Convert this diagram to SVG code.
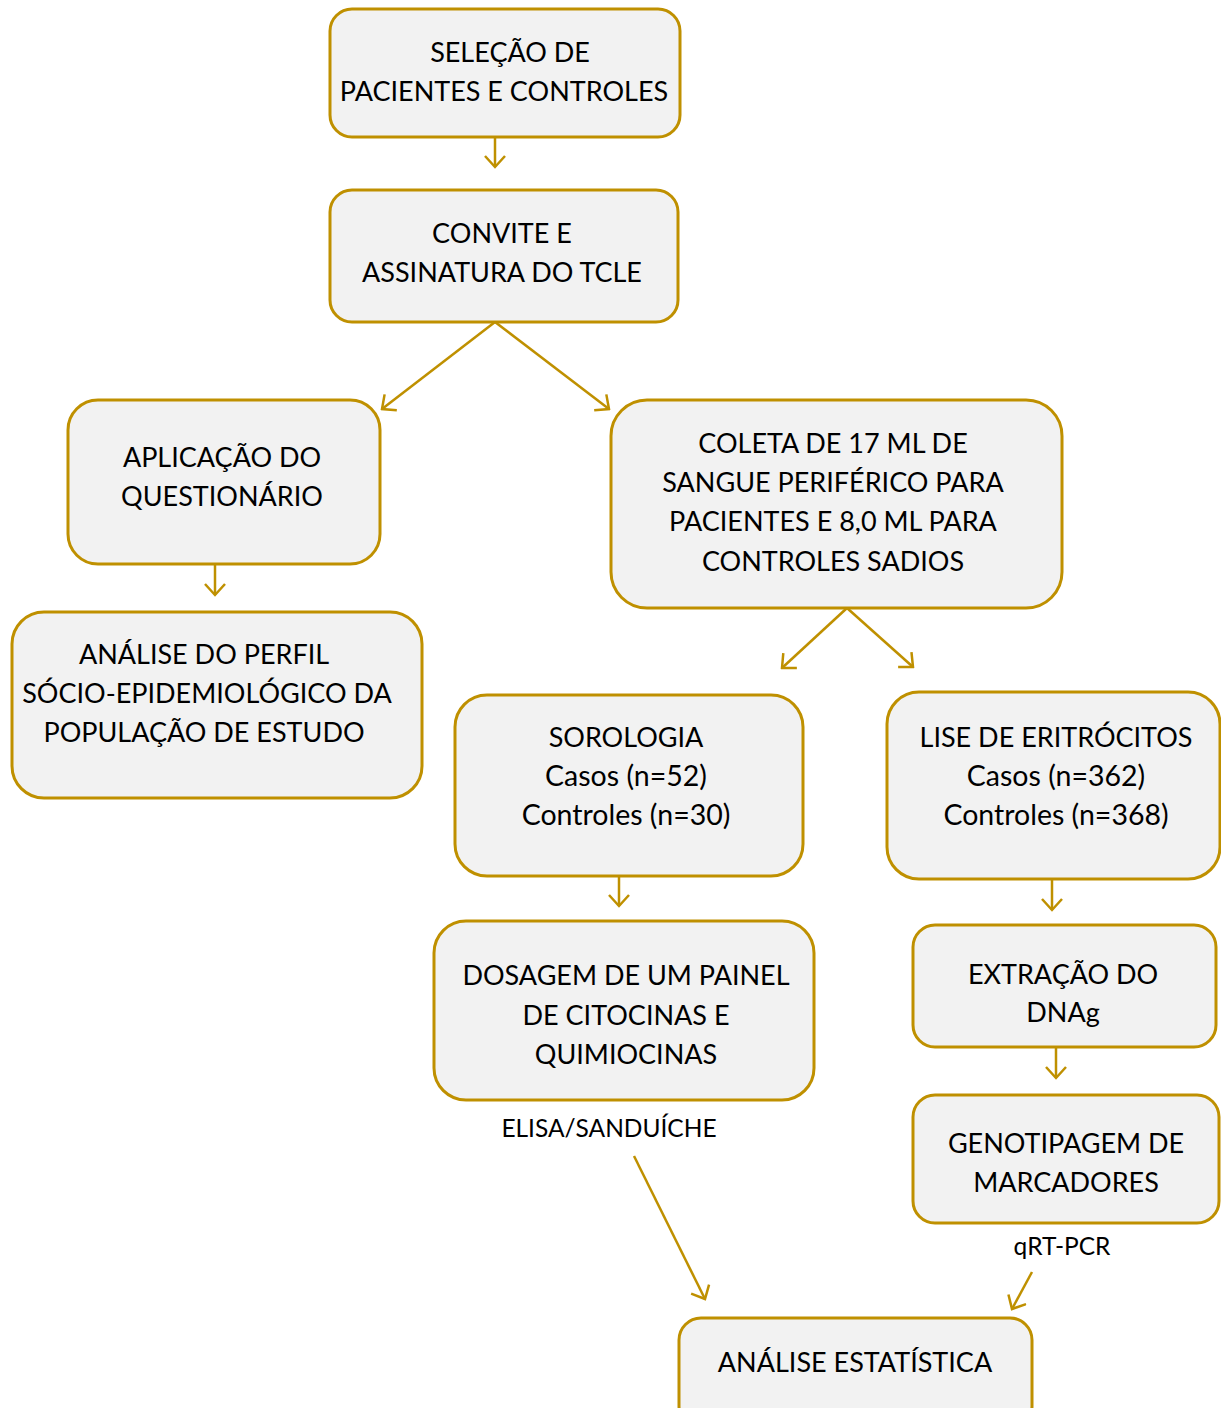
<svg xmlns="http://www.w3.org/2000/svg" width="1221" height="1408" viewBox="0 0 1221 1408">
<style>
.box{fill:#F2F2F2;stroke:#BF9000;stroke-width:3}
.t{font-family:Lato,"Liberation Sans",sans-serif;font-size:27px;fill:#000;text-anchor:middle}
.l{font-size:28.5px}
.s{font-family:Lato,"Liberation Sans",sans-serif;font-size:24.5px;fill:#000;text-anchor:middle}
.c{stroke:#BF9000;stroke-width:2.5;fill:none;marker-end:url(#ah)}
</style>
<defs>
<marker id="ah" viewBox="0 0 14 22" refX="12" refY="11" markerWidth="14" markerHeight="22" markerUnits="userSpaceOnUse" orient="auto">
<polyline points="1,1 12,11 1,21" fill="none" stroke="#BF9000" stroke-width="2.5"/>
</marker>
</defs>
<rect width="1221" height="1408" fill="#fff"/>
<g id="connectors">
<line class="c" x1="495" y1="137" x2="495" y2="167"/>
<line class="c" x1="495" y1="322" x2="382" y2="409"/>
<line class="c" x1="495" y1="322" x2="609" y2="409"/>
<line class="c" x1="215" y1="564" x2="215" y2="595"/>
<line class="c" x1="847" y1="608" x2="782" y2="668"/>
<line class="c" x1="847" y1="608" x2="913" y2="667"/>
<line class="c" x1="619" y1="876" x2="619" y2="906"/>
<line class="c" x1="1052" y1="879" x2="1052" y2="910"/>
<line class="c" x1="1056" y1="1047" x2="1056" y2="1078"/>
<line class="c" x1="634" y1="1156" x2="705" y2="1299"/>
<line class="c" x1="1032" y1="1272" x2="1012" y2="1309"/>
</g>
<g id="n1"><rect class="box" x="330" y="9" width="350" height="128" rx="22"/>
<text class="t" x="510" y="62">SELEÇÃO DE</text><text class="t" x="504" y="101">PACIENTES E CONTROLES</text></g>
<g id="n2"><rect class="box" x="330" y="190" width="348" height="132" rx="22"/>
<text class="t" x="502" y="243">CONVITE E</text><text class="t" x="502" y="282">ASSINATURA DO TCLE</text></g>
<g id="n3"><rect class="box" x="68" y="400" width="312" height="164" rx="30"/>
<text class="t" x="222" y="467">APLICAÇÃO DO</text><text class="t" x="222" y="506">QUESTIONÁRIO</text></g>
<g id="n4"><rect class="box" x="611" y="400" width="451" height="208" rx="36"/>
<text class="t" x="833" y="453">COLETA DE 17 ML DE</text><text class="t" x="833" y="492">SANGUE PERIFÉRICO PARA</text><text class="t" x="833" y="531">PACIENTES E 8,0 ML PARA</text><text class="t" x="833" y="571">CONTROLES SADIOS</text></g>
<g id="n5"><rect class="box" x="12" y="612" width="410" height="186" rx="32"/>
<text class="t" x="204" y="664">ANÁLISE DO PERFIL</text><text class="t" x="207" y="703">SÓCIO-EPIDEMIOLÓGICO DA</text><text class="t" x="204" y="742">POPULAÇÃO DE ESTUDO</text></g>
<g id="n6"><rect class="box" x="455" y="695" width="348" height="181" rx="32"/>
<text class="t" x="626" y="747">SOROLOGIA</text><text class="t l" x="626" y="786">Casos (n=52)</text><text class="t l" x="626" y="825">Controles (n=30)</text></g>
<g id="n7"><rect class="box" x="887" y="692" width="333" height="187" rx="32"/>
<text class="t" x="1056" y="747">LISE DE ERITRÓCITOS</text><text class="t l" x="1056" y="786">Casos (n=362)</text><text class="t l" x="1056" y="825">Controles (n=368)</text></g>
<g id="n8"><rect class="box" x="434" y="921" width="380" height="179" rx="32"/>
<text class="t" x="626" y="985">DOSAGEM DE UM PAINEL</text><text class="t" x="626" y="1025">DE CITOCINAS E</text><text class="t" x="626" y="1064">QUIMIOCINAS</text></g>
<g id="n9"><rect class="box" x="913" y="925" width="303" height="122" rx="22"/>
<text class="t" x="1063" y="984">EXTRAÇÃO DO</text><text class="t" x="1063" y="1022">DNAg</text></g>
<g id="n10"><rect class="box" x="913" y="1095" width="306" height="128" rx="22"/>
<text class="t" x="1066" y="1153">GENOTIPAGEM DE</text><text class="t" x="1066" y="1192">MARCADORES</text></g>
<g id="n11"><rect class="box" x="679" y="1318" width="353" height="110" rx="22"/>
<text class="t" x="855" y="1372">ANÁLISE ESTATÍSTICA</text></g>
<g id="labels"><text class="s" x="609" y="1137">ELISA/SANDUÍCHE</text><text class="s" x="1062" y="1255">qRT-PCR</text></g>
</svg>
